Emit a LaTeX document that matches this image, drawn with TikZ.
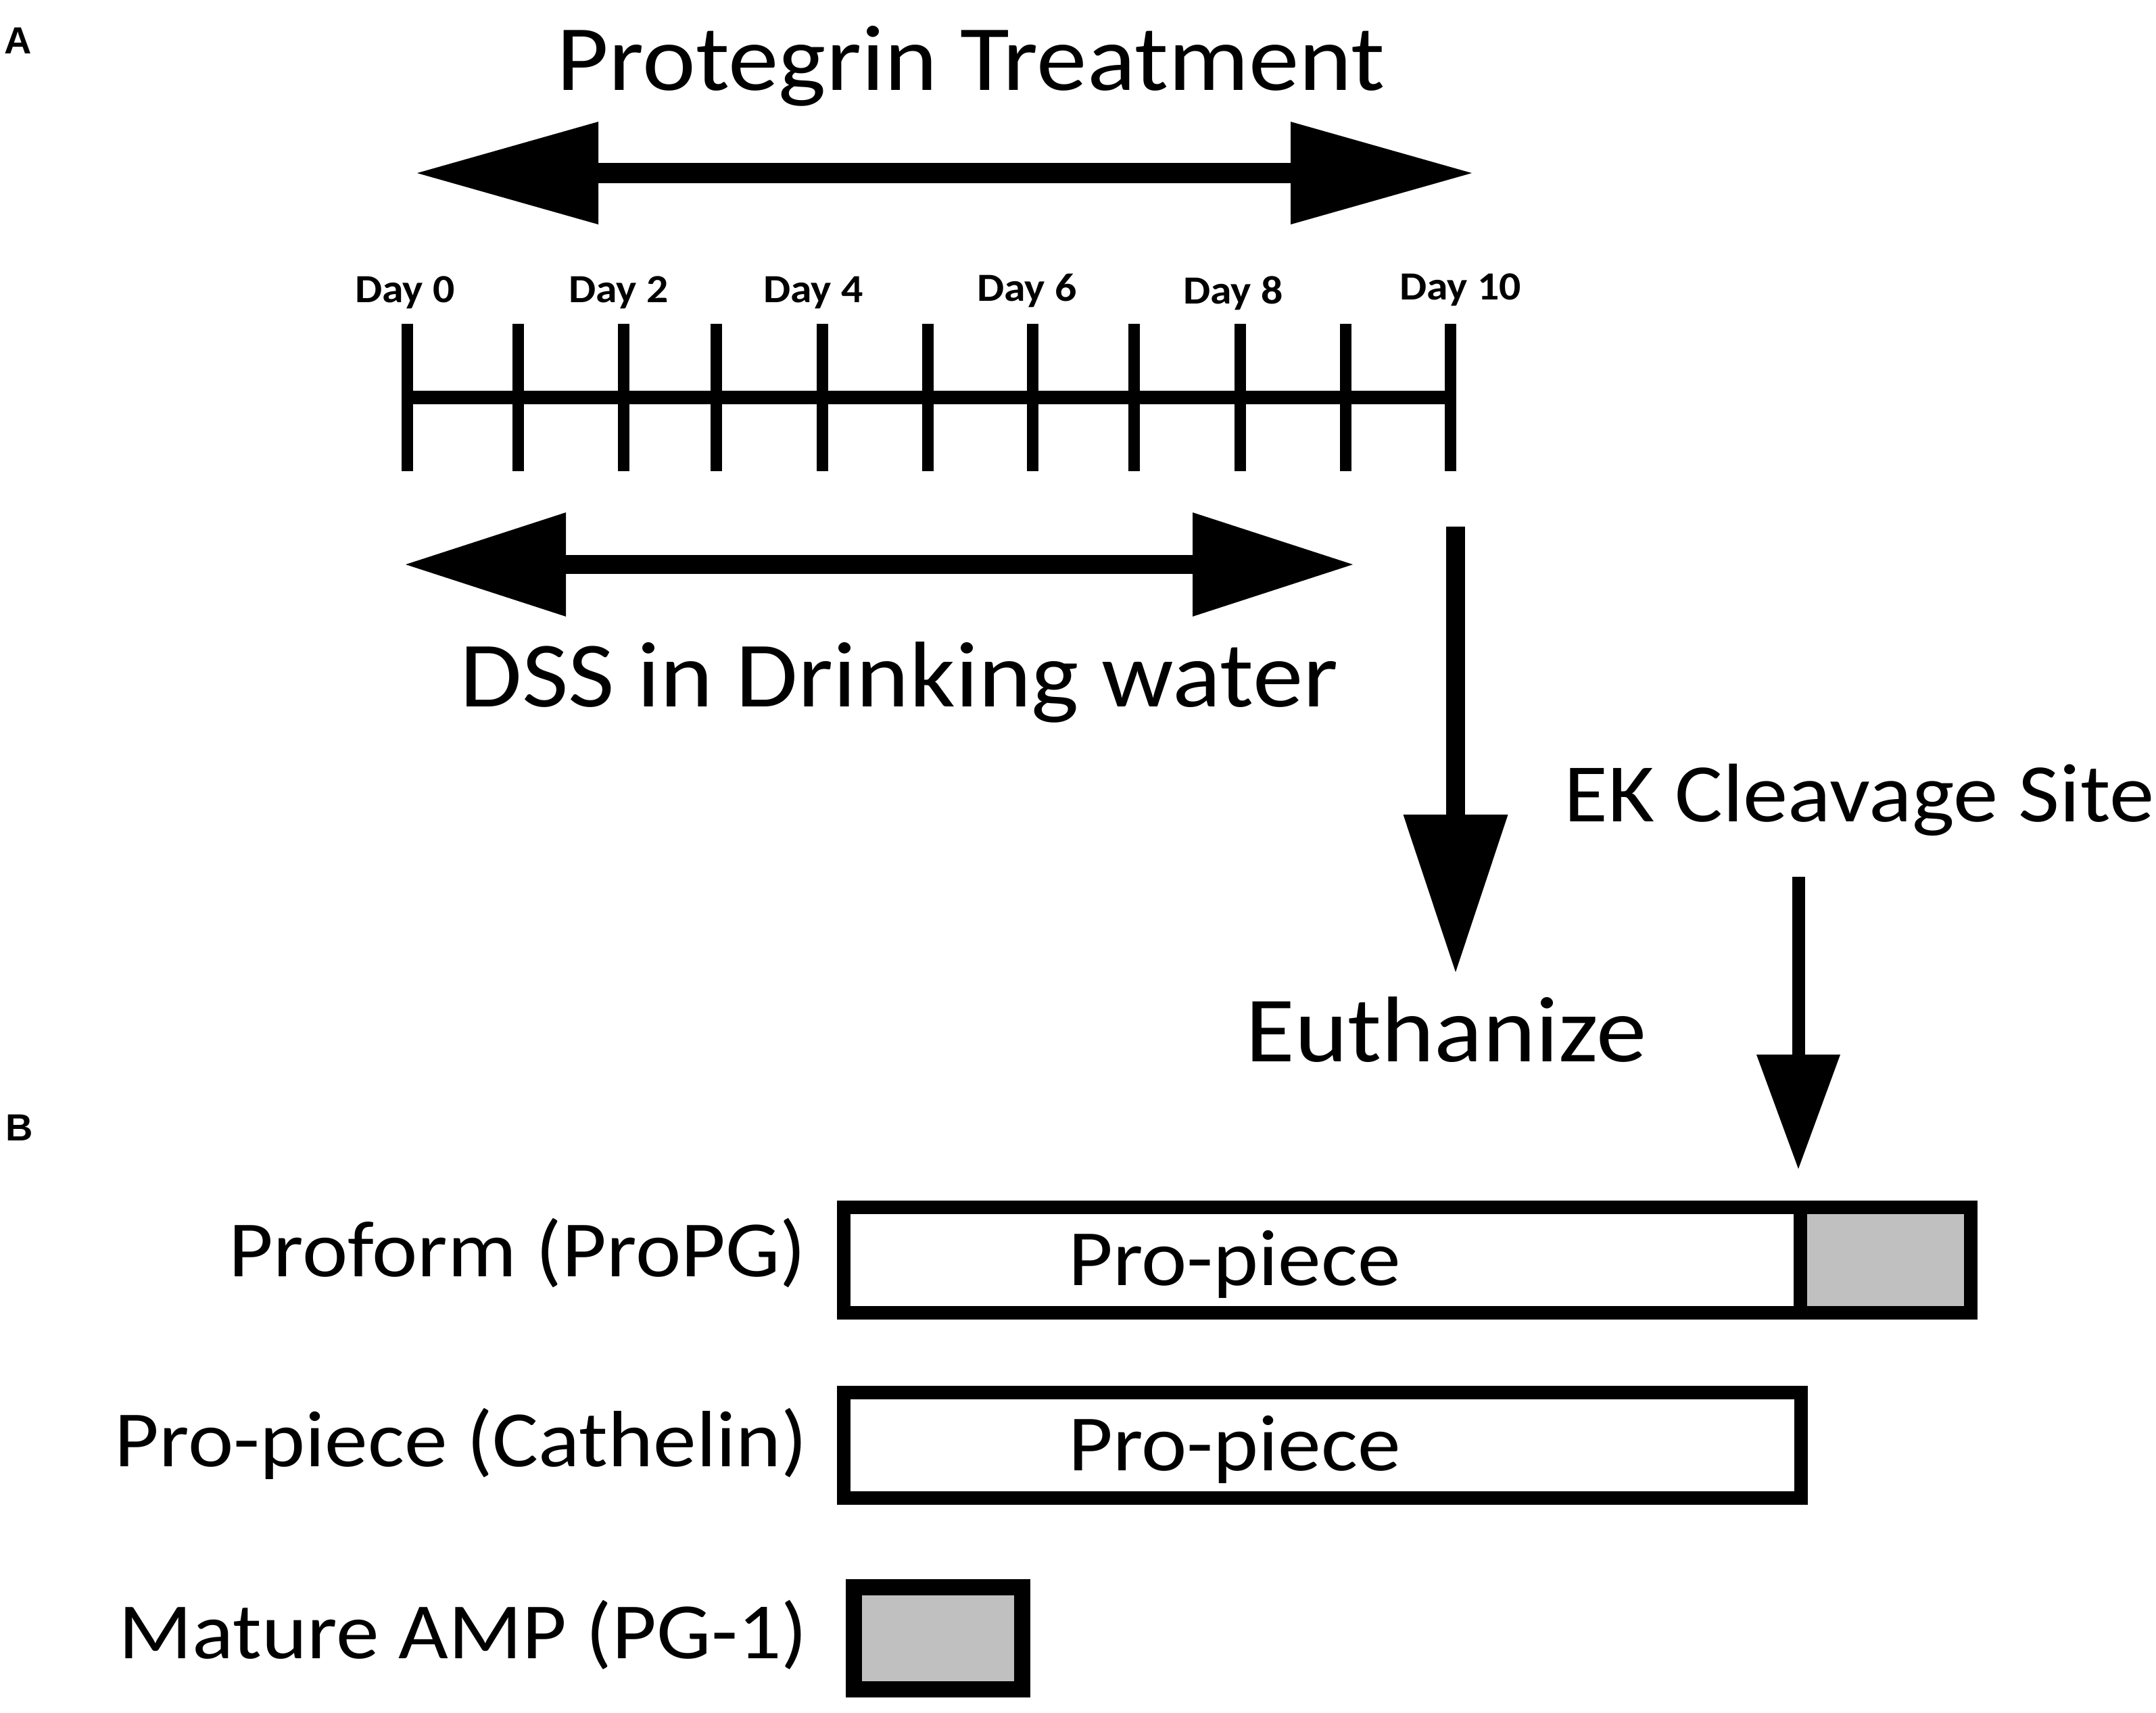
\documentclass[tikz,border=0pt]{standalone}
\usepackage{fontspec}
\setmainfont{Carlito}[FakeStretch=1.08]
\newfontfamily\panelfont{Liberation Sans}
\usepackage{tikz}
\usetikzlibrary{arrows.meta,positioning,calc}
\definecolor{ampgray}{RGB}{192,192,192}

\tikzset{
  bigtxt/.style={inner sep=0pt, font=\fontsize{39.3}{42}\selectfont},
  ektxt/.style={inner sep=0pt, font=\fontsize{35}{38}\selectfont},
  boxtxt/.style={inner sep=0pt, font=\fontsize{33.6}{36}\selectfont},
  daytxt/.style={inner sep=0pt, font=\fontsize{16.8}{18}\selectfont\bfseries},
  panel/.style={inner sep=0pt, font=\panelfont\fontsize{15.9}{17}\selectfont\bfseries},
  tickline/.style={line width=0.17cm},
  axisline/.style={line width=0.20cm},
  protarrow/.style={line width=0.30cm, >={Triangle[length=2.68cm,width=1.52cm,line width=0pt]}, <->},
  dssarrow/.style={line width=0.28cm, >={Triangle[length=2.37cm,width=1.54cm,line width=0pt]}, <->},
  eutharrow/.style={line width=0.28cm, >={Triangle[length=2.33cm,width=1.55cm,line width=0pt]}, ->},
  ekarrow/.style={line width=0.19cm, >={Triangle[length=1.69cm,width=1.24cm,line width=0pt]}, ->},
  piece/.style={draw, line width=0.20cm, fill=white, inner sep=0pt},
  amp/.style={piece, fill=ampgray}
}

\begin{document}
\begin{tikzpicture}
\useasboundingbox (0,0) rectangle (31.89,-25.33);
% panel A
\node[panel, anchor=base west] (pa) at (0.06,-0.79) {A};
\node[bigtxt, anchor=base] (prot) at (14.36,-1.33) {Protegrin Treatment};
\coordinate (protL) at (6.17,-2.56);
\coordinate (protR) at (21.77,-2.56);
\draw[protarrow] (protL) -- (protR);
% time line
\foreach \x [count=\i from 0] in {6.02,7.66,9.22,10.59,12.16,13.72,15.27,16.77,18.34,19.90,21.45}
    \draw[tickline] (\x,-4.79) coordinate (t\i) -- (\x,-6.97) coordinate (b\i);
\draw[axisline] ($(t0)!0.5!(b0)$) -- ($(t10)!0.5!(b10)$);
\foreach \x/\y/\d in {5.99/4.47/0, 9.15/4.47/2, 12.03/4.47/4, 15.19/4.45/6, 18.24/4.49/8, 21.60/4.43/10}
    \node[daytxt, anchor=base] (day\d) at (\x,-\y) {Day \d};
\coordinate (dssL) at (6.00,-8.35);
\coordinate (dssR) at (20.01,-8.35);
\draw[dssarrow] (dssL) -- (dssR);
\node[bigtxt, anchor=base] (dss) at (13.30,-10.45) {DSS in Drinking water};
% euthanize
\coordinate (euthtop) at (21.53,-7.79);
\coordinate (euthtip) at (21.53,-14.38);
\draw[eutharrow] (euthtop) -- (euthtip);
\node[bigtxt, anchor=base] (euth) at (21.39,-15.70) {Euthanize};
\node[ektxt, anchor=base] (ek) at (27.50,-12.15) {EK Cleavage Site};
% panel B
\node[panel, anchor=base west] (pb) at (0.08,-16.87) {B};
\node[piece, minimum width=14.15cm, minimum height=1.56cm] (pro1) at (19.555,-18.64) {};
\node[amp, minimum width=2.52cm, minimum height=1.56cm] (pg1) at (27.89,-18.64) {};
\node[piece, minimum width=14.16cm, minimum height=1.56cm] (pro2) at (19.56,-21.38) {};
\node[amp, line width=0.24cm, minimum width=2.49cm, minimum height=1.51cm] (pg2) at (13.875,-24.235) {};
\node[boxtxt, anchor=base] (pp1) at (18.26,-19.01) {Pro-piece};
\node[boxtxt, anchor=base] (pp2) at (18.26,-21.75) {Pro-piece};
\node[boxtxt, anchor=base east] (lab1) at (11.93,-18.88) {Proform (ProPG)};
\node[boxtxt, anchor=base east] (lab2) at (11.95,-21.69) {Pro-piece (Cathelin)};
\node[boxtxt, anchor=base east] (lab3) at (11.95,-24.53) {Mature AMP (PG-1)};
\coordinate (ektop) at (26.60,-12.97);
\coordinate (ektip) at (26.60,-17.29);
\draw[ekarrow] (ektop) -- (ektip);
\end{tikzpicture}
\end{document}
